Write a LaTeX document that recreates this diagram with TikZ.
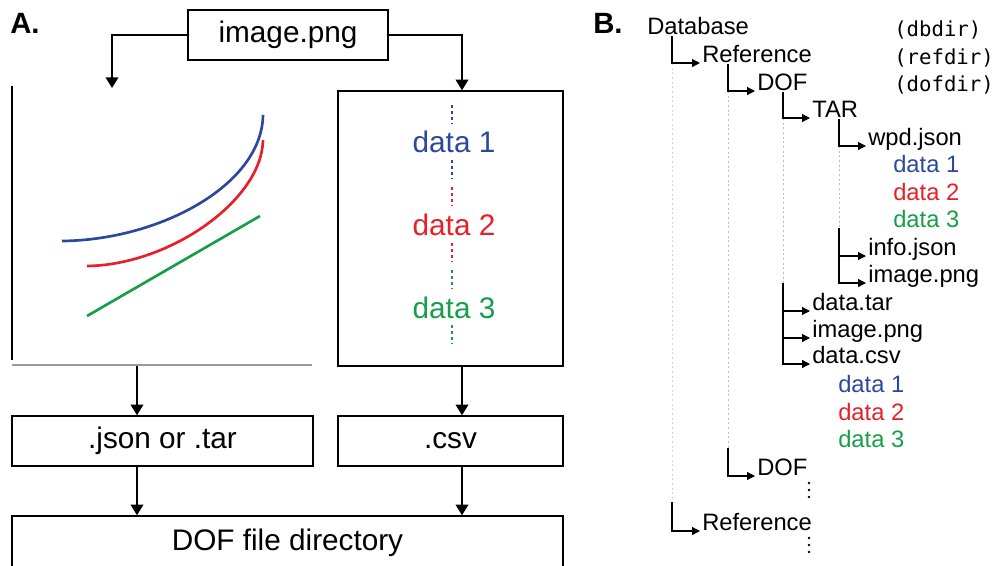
\documentclass[tikz,border=0pt]{standalone}
\usepackage{fontspec}
\setmainfont{Liberation Sans}
\setmonofont{DejaVu Sans Mono}
\usetikzlibrary{arrows.meta,calc}
\definecolor{dblue}{RGB}{43,72,158}
\definecolor{dred}{RGB}{230,32,40}
\definecolor{dgreen}{RGB}{22,158,72}
\begin{document}
\begin{tikzpicture}[x=0.75pt,y=-0.75pt,
  boxnode/.style={draw, line width=1.1pt, inner sep=0pt, font=\fontsize{22.3}{26}\selectfont},
  arr/.style={line width=1.2pt, -{Triangle[length=8pt,width=9.5pt]}},
  treenode/.style={anchor=base west, inner sep=0pt, font=\fontsize{17.8}{21}\selectfont},
  mononode/.style={anchor=base west, inner sep=0pt, font=\ttfamily\fontsize{15.5}{18}\selectfont},
  tarr/.style={line width=0.9pt, -{Triangle[length=6pt,width=6pt]}},
  dotl/.style={gray!50, line width=0.6pt, dash pattern=on 1.5pt off 2pt},
  ddot/.style={line width=1.5pt, dash pattern=on 2.25pt off 2.25pt},
  curve/.style={line width=2pt},
  datalbl/.style={anchor=base, inner sep=0pt, font=\fontsize{22.3}{26}\selectfont},
  panellbl/.style={anchor=base west, inner sep=0pt, font=\bfseries\fontsize{22}{26}\selectfont}]
\useasboundingbox (0,0) rectangle (999,565);
\clip (0,0) rectangle (999,565);

% ---------- Panel A ----------
\node[panellbl] (labA) at (10,33) {A.};
\node[boxnode, minimum width=150pt, minimum height=37.5pt] (img) at (288,35) {image.png};
\coordinate (lpTop) at (112,88);
\draw[arr] (img.west) -| (lpTop);
\node[boxnode, minimum width=168.75pt, minimum height=206.25pt] (rb) at (450.5,228.5) {};
\draw[arr] (img.east) -| ($(rb.north)+(11.5,0)$);

% left plot panel
\draw[line width=1.1pt] (12,86) -- (12,360);
\draw[line width=0.9pt, gray!80] (12,365) -- (312,365);
\draw[curve, dblue] (62,241) .. controls (160,240) and (262,185) .. (263,115);
\draw[curve, dred] (87,266) .. controls (170,265) and (262,200) .. (263,140);
\draw[curve, dgreen] (87,316) -- (260,216);

% right data panel
\draw[ddot, dblue] (452,105) -- (452,124);
\node[datalbl, text=dblue] (a1) at (454,152) {data 1};
\draw[ddot, dblue] (452,160) -- (452,179);
\draw[ddot, dred] (452,187) -- (452,206);
\node[datalbl, text=dred] (a2) at (454,235) {data 2};
\draw[ddot, dred] (452,243) -- (452,262);
\draw[ddot, dgreen] (452,270) -- (452,289);
\node[datalbl, text=dgreen] (a3) at (454,318) {data 3};
\draw[ddot, dgreen] (452,325) -- (452,344);

% lower boxes
\coordinate (lpBot) at (137,366);
\coordinate (rpBot) at (462,366);
\node[boxnode, minimum width=225.75pt, minimum height=37.5pt] (json) at (162.5,441) {.json or .tar};
\node[boxnode, minimum width=168.75pt, minimum height=37.5pt] (csv) at (450.5,441) {.csv};
\node[boxnode, minimum width=413.25pt, minimum height=40.5pt] (dofbox) at (287.5,543) {DOF file directory};
\draw[arr] (lpBot) -- (lpBot |- json.north);
\draw[arr] (rpBot) -- (rpBot |- csv.north);
\draw[arr] (lpBot |- json.south) -- (lpBot |- dofbox.north);
\draw[arr] (rpBot |- csv.south) -- (rpBot |- dofbox.north);

% ---------- Panel B ----------
\node[panellbl] (labB) at (593,33) {B.};
\node[treenode] (db) at (647,34) {Database};
\node[treenode] (ref1) at (702,62) {Reference};
\node[treenode] (dof1) at (757,90) {DOF};
\node[treenode] (tar) at (812,117) {TAR};
\node[treenode] (wpd) at (868,145) {wpd.json};
\node[treenode, text=dblue] (t1) at (893,172) {data 1};
\node[treenode, text=dred] (t2) at (893,200) {data 2};
\node[treenode, text=dgreen] (t3) at (893,227) {data 3};
\node[treenode] (info) at (868,255) {info.json};
\node[treenode] (img2) at (868,282) {image.png};
\node[treenode] (dtar) at (812,310) {data.tar};
\node[treenode] (img3) at (812,337) {image.png};
\node[treenode] (dcsv) at (812,363) {data.csv};
\node[treenode, text=dblue] (c1) at (838,392) {data 1};
\node[treenode, text=dred] (c2) at (838,420) {data 2};
\node[treenode, text=dgreen] (c3) at (838,447) {data 3};
\node[treenode] (dof2) at (757,475) {DOF};
\node[treenode] (ref2) at (702,530) {Reference};

\node[mononode] (mdb) at (894,36) {(dbdir)};
\node[mononode] (mref) at (894,64) {(refdir)};
\node[mononode] (mdof) at (894,91) {(dofdir)};

\coordinate (tA) at (672,0);
\coordinate (tB) at (728,0);
\coordinate (tC) at (783,0);
\coordinate (tD) at (839,0);

% dotted continuation of trunks
\draw[dotl, gray!35] ($(tA |- ref1.base)+(0,1)$) -- ($(tA |- dof2.base)+(0,27)$);
\draw[dotl] ($(tB |- dof1.base)+(0,1)$) -- ($(tB |- c3.base)+(0,1)$);
\draw[dotl] ($(tC |- tar.base)+(0,1)$) -- ($(tC |- img2.base)+(0,1)$);
\draw[dotl] ($(tD |- wpd.base)+(0,1)$) -- ($(tD |- t3.base)+(0,1)$);

% solid connectors
\draw[tarr] ($(tA |- db.base)+(0,2)$) |- ($(ref1.base west)+(-2,1)$);
\draw[tarr] ($(tB |- ref1.base)+(0,2)$) |- ($(dof1.base west)+(-2,1)$);
\draw[tarr] ($(tC |- dof1.base)+(0,2)$) |- ($(tar.base west)+(-2,1)$);
\draw[tarr] ($(tD |- tar.base)+(0,2)$) |- ($(wpd.base west)+(-2,1)$);
\draw[tarr] ($(tD |- t3.base)+(0,1)$) |- ($(info.base west)+(-2,1)$);
\draw[tarr] ($(tD |- t3.base)+(0,1)$) |- ($(img2.base west)+(-2,1)$);
\draw[tarr] ($(tC |- img2.base)+(0,1)$) |- ($(dtar.base west)+(-2,1)$);
\draw[tarr] ($(tC |- img2.base)+(0,1)$) |- ($(img3.base west)+(-2,1)$);
\draw[tarr] ($(tC |- img2.base)+(0,1)$) |- ($(dcsv.base west)+(-2,1)$);
\draw[tarr] ($(tB |- c3.base)+(0,1)$) |- ($(dof2.base west)+(-2,1)$);
\draw[tarr] ($(tA |- dof2.base)+(0,27)$) |- ($(ref2.base west)+(-2,1)$);

% continuation dots
\foreach \yy in {483,490,497} \fill (809,\yy) circle (1.1pt);
\foreach \yy in {538,545,552} \fill (809,\yy) circle (1.1pt);
\end{tikzpicture}
\end{document}
